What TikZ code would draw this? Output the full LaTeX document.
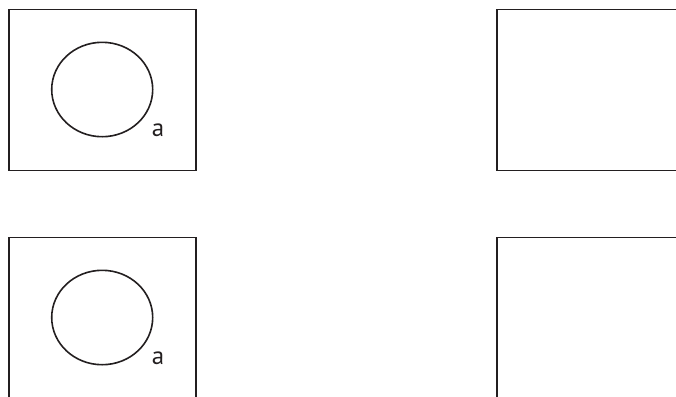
\documentclass[tikz,border=0pt]{standalone}
\usepackage{fontspec}
\setmainfont{PT Sans}
\usepackage{xcolor}
\definecolor{inkgrey}{RGB}{35, 31, 32}
\usepackage{tikz}
\usetikzlibrary{positioning}

\tikzset{
    frame/.style={draw=inkgrey, line width=1.9bp},
    ring/.style={draw=inkgrey, line width=1.6bp},
    setlabel/.style={anchor=base, inner sep=0pt, text=inkgrey, font=\fontsize{25}{27}\selectfont}
}

\begin{document}
\begin{tikzpicture}[x=1bp, y=-1bp]
    \useasboundingbox (0,0) rectangle (676,396);
    \clip (0,0) rectangle (676,396);

    % left column: universe with one set
    \foreach \dy/\name in {0/top, 228/bottom} {
        \draw[frame] (9, 9.5+\dy) rectangle (196, 170.5+\dy);
        \draw[ring] (102.2, 89.5+\dy) ellipse [x radius=50.5, y radius=47.2];
        \node[setlabel] (label\name) at (158, 136.7+\dy) {a};
    }

    % right column: empty universes
    \foreach \dy in {0, 228} {
        \draw[frame] (497, 9.5+\dy) rectangle (700, 170.5+\dy);
    }
\end{tikzpicture}
\end{document}
